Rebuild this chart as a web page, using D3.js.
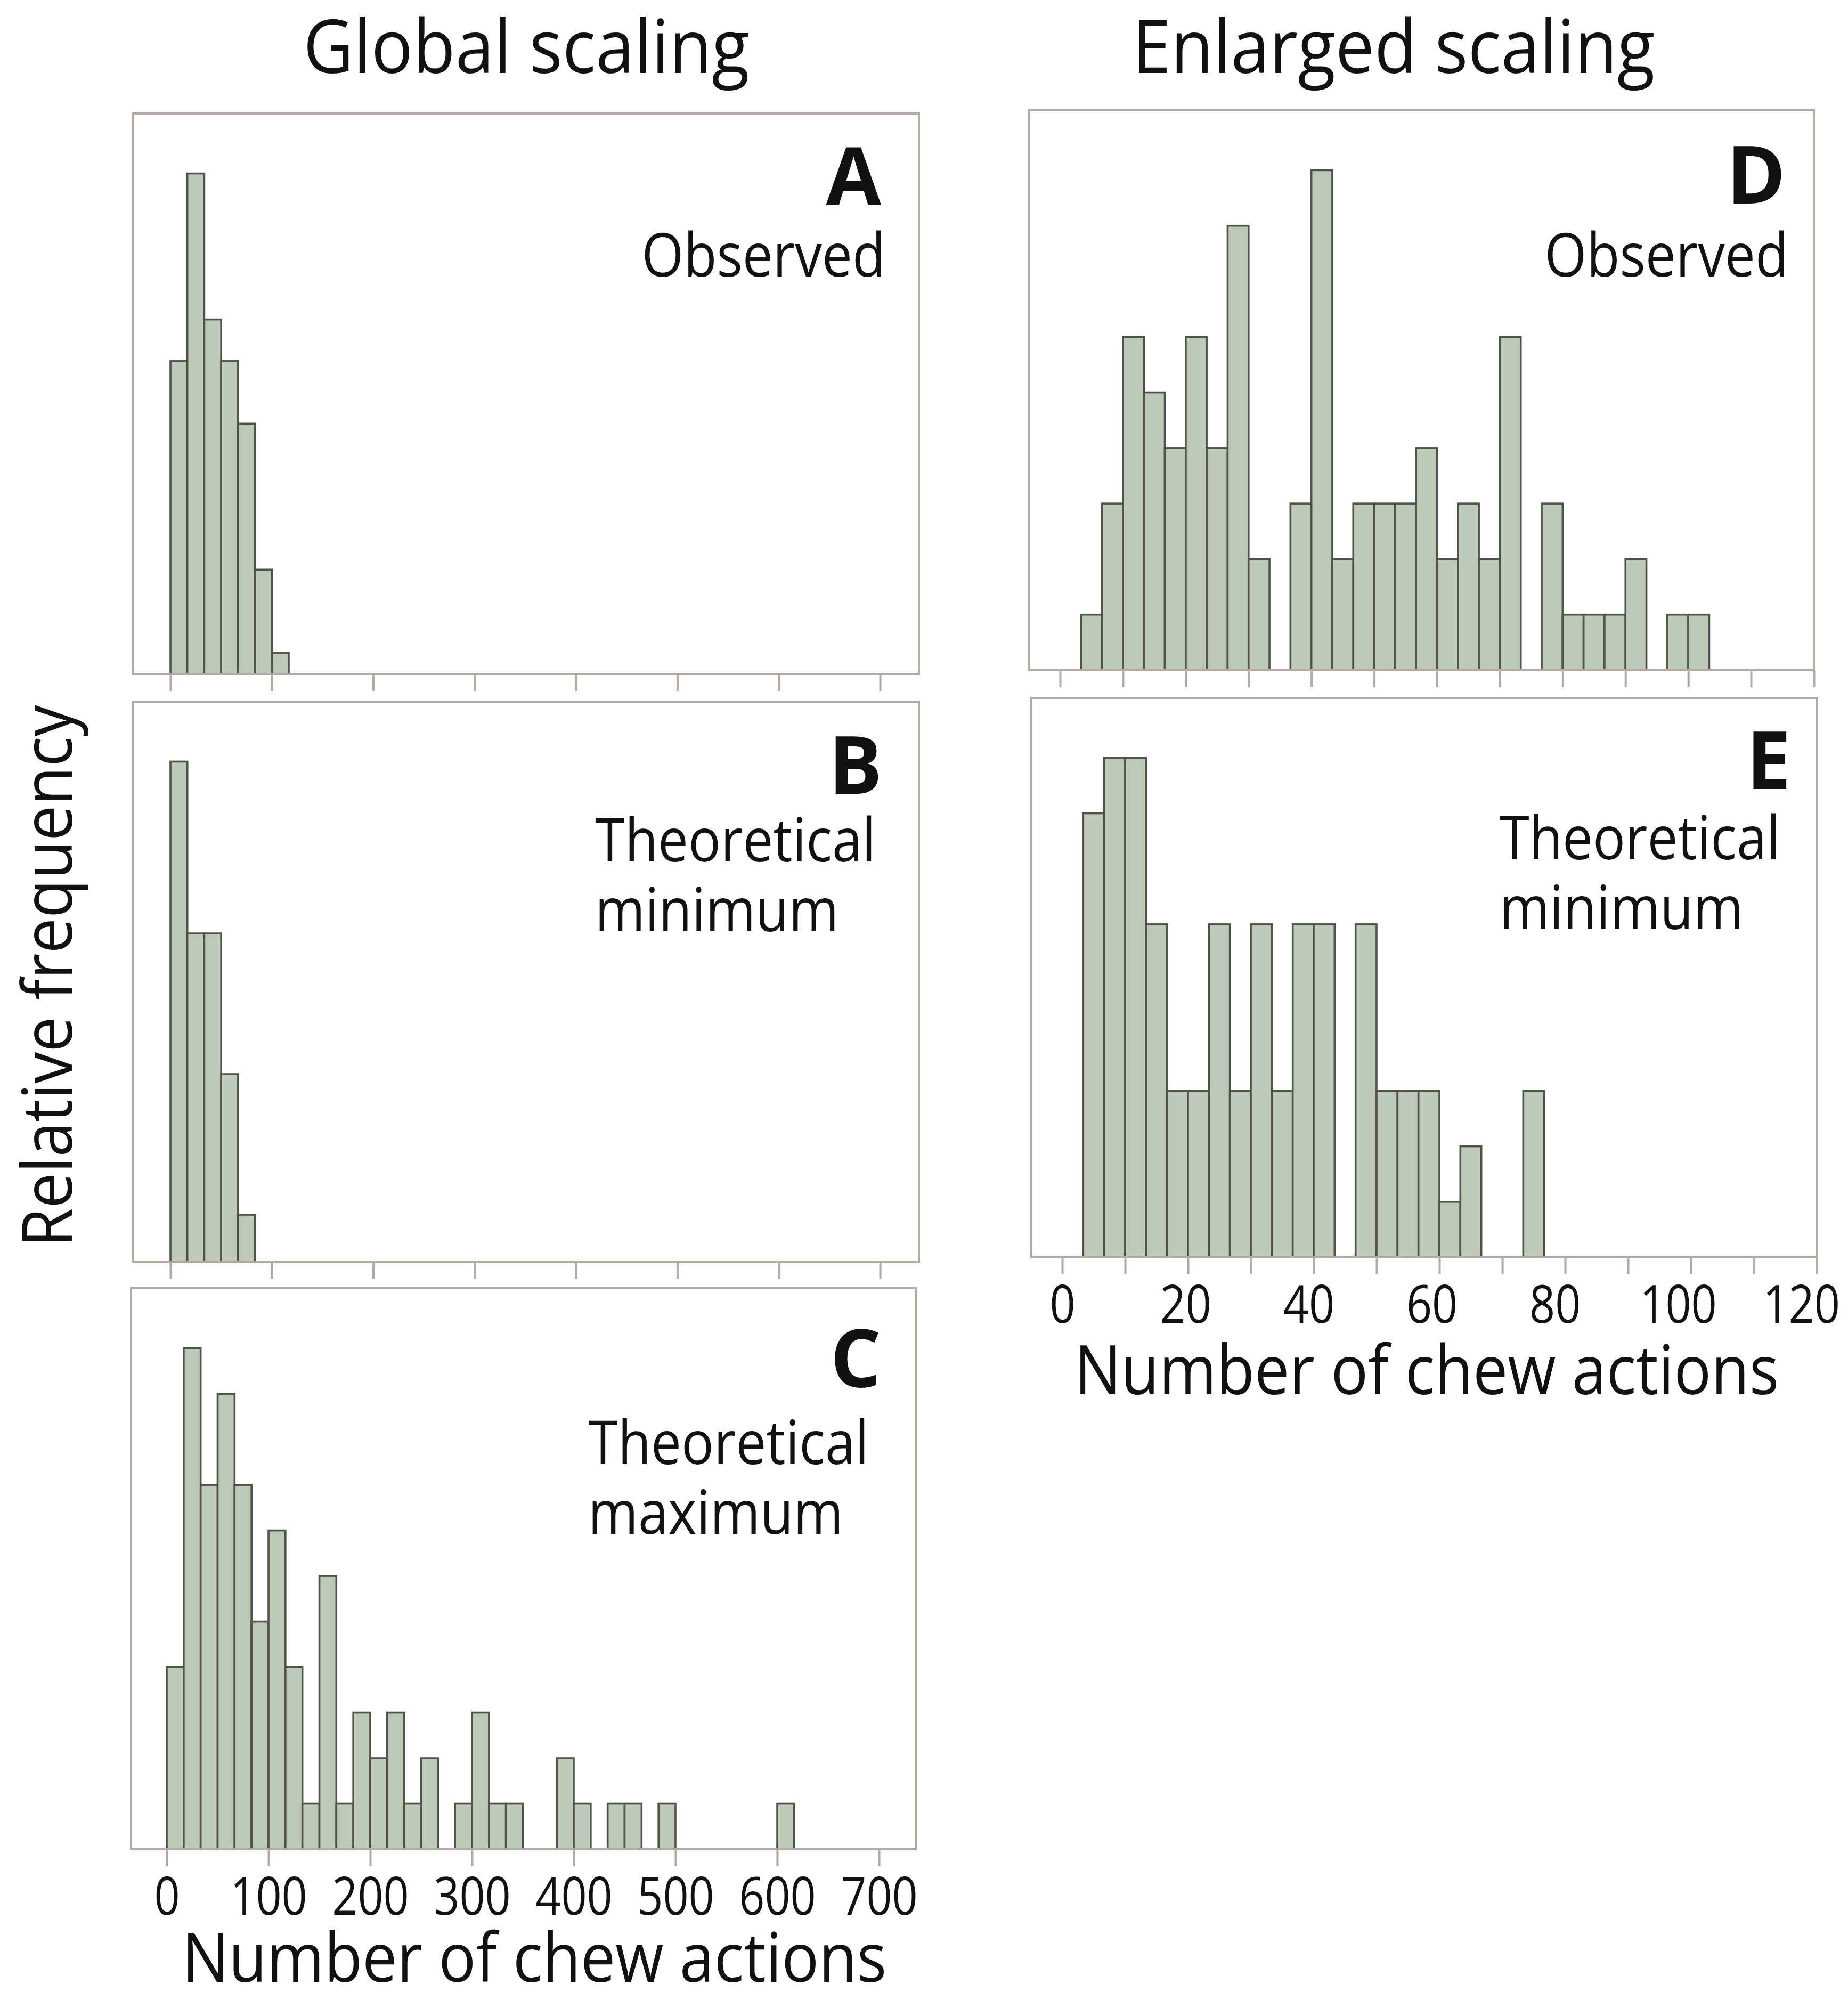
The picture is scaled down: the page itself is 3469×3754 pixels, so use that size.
<!DOCTYPE html>
<html>
<head>
<meta charset="utf-8">
<script src="https://cdn.jsdelivr.net/npm/d3@7"></script>
<style>
  html, body { margin: 0; padding: 0; background: #fff; }
  text { font-family: 'Open Sans', 'Noto Sans', sans-serif; fill: #111; }
</style>
</head>
<body>
<svg id="chart"></svg>
<script>
// Histogram counts (89 subjects each).
// Global scaling uses bins of 50/3 chew actions, starting at 0.
const globalBinWidth   = 50 / 3;
const observedGlobal   = [ 15, 24, 17, 15, 12, 5, 1 ];
const minimumGlobal    = [ 32, 21, 21, 12, 3 ];
const maximumGlobal    = [ 4, 11, 8, 10, 8, 5, 7, 4, 1, 6, 1, 3, 2, 3, 1, 2, 0, 1, 3, 1, 1,
                           0, 0, 2, 1, 0, 1, 1, 0, 1, 0, 0, 0, 0, 0, 0, 1 ];
// Enlarged scaling uses bins of 10/3 chew actions, starting at 0.
const enlargedBinWidth = 10 / 3;
const observedEnlarged = [ 0, 1, 3, 6, 5, 4, 6, 4, 8, 2, 0, 3, 9, 2, 3, 3, 3, 4, 2, 3, 2,
                           6, 0, 3, 1, 1, 1, 2, 0, 1, 1 ];
const minimumEnlarged  = [ 0, 8, 9, 9, 6, 3, 3, 6, 3, 6, 3, 6, 6, 0, 6, 3, 3, 3, 1, 2, 0, 0, 3 ];

// Axis ticks and labels.
const globalTicks      = [ 0, 100, 200, 300, 400, 500, 600, 700 ];
const globalLabels     = [ '0', '100', '200', '300', '400', '500', '600', '700' ];
const enlargedTicks    = [ 0, 10, 20, 30, 40, 50, 60, 70, 80, 90, 100, 110, 120 ];
const enlargedLabels   = [ '0', '20', '40', '60', '80', '100', '120' ];

const columnTitles     = [ 'Global scaling', 'Enlarged scaling' ];
const yTitle           = 'Relative frequency';
const xTitle           = 'Number of chew actions';

const W = 3469, H = 3754;
const barFill = '#bccab7', barStroke = '#51534a', frameColor = '#b5a9a6';

const svg = d3.select( '#chart' ).attr( 'width', W ).attr( 'height', H );
svg.append( 'rect' ).attr( 'width', W ).attr( 'height', H ).attr( 'fill', '#fff' );

// Panel layout in pixels.
const panels = [
  { counts: observedGlobal, bw: globalBinWidth, frame: [ 250, 1725, 213, 1265 ], range: [ 320, 1652 ],
    domain: [ 0, 700 ], ticks: globalTicks, labels: null, letter: 'A', letterAt: [ 1654, 385 ],
    lines: [ 'Observed' ], linesAt: [ 1662, 519 ], anchor: 'end' },
  { counts: minimumGlobal, bw: globalBinWidth, frame: [ 250, 1725, 1317, 2368 ], range: [ 320, 1652 ],
    domain: [ 0, 700 ], ticks: globalTicks, labels: null, letter: 'B', letterAt: [ 1656, 1490 ],
    lines: [ 'Theoretical', 'minimum' ], linesAt: [ 1117, 1617 ], anchor: 'start' },
  { counts: maximumGlobal, bw: globalBinWidth, frame: [ 246, 1720, 2418, 3471 ], range: [ 313, 1650 ],
    domain: [ 0, 700 ], ticks: globalTicks, labels: globalLabels, drift: 0, letter: 'C', letterAt: [ 1654, 2604 ],
    lines: [ 'Theoretical', 'maximum' ], linesAt: [ 1104, 2748 ], anchor: 'start', xTitleAt: [ 1003, 3720 ] },
  { counts: observedEnlarged, bw: enlargedBinWidth, frame: [ 1932, 3405, 207, 1258 ], range: [ 1990, 3405 ],
    domain: [ 0, 120 ], ticks: enlargedTicks, labels: null, letter: 'D', letterAt: [ 3352, 382 ],
    lines: [ 'Observed' ], linesAt: [ 3357, 519 ], anchor: 'end' },
  { counts: minimumEnlarged, bw: enlargedBinWidth, frame: [ 1936, 3410, 1310, 2360 ], range: [ 1994, 3410 ],
    domain: [ 0, 120 ], ticks: enlargedTicks, labels: enlargedLabels, drift: -0.24, letter: 'E', letterAt: [ 3362, 1481 ],
    lines: [ 'Theoretical', 'minimum' ], linesAt: [ 2815, 1613 ], anchor: 'start', xTitleAt: [ 2678, 2617 ] }
];

// Draws one histogram panel.
function drawPanel ( p ) {
  const [ x0, x1, y0, y1 ] = p.frame;
  const g = svg.append( 'g' );
  const x = d3.scaleLinear( ).domain( p.domain ).range( p.range );
  const y = d3.scaleLinear( ).domain( [ 0, d3.max( p.counts ) / 0.893 ] ).range( [ y1, y0 ] );

  const bins = p.counts.map( ( c, i ) => ( { lo: i * p.bw, hi: ( i + 1 ) * p.bw, c } ) )
                       .filter( d => d.c > 0 );
  g.selectAll( 'rect.bar' ).data( bins ).enter( ).append( 'rect' )
    .attr( 'class', 'bar' )
    .attr( 'x', d => x( d.lo ) )
    .attr( 'width', d => x( d.hi ) - x( d.lo ) )
    .attr( 'y', d => y( d.c ) )
    .attr( 'height', d => y( 0 ) - y( d.c ) )
    .attr( 'fill', barFill )
    .attr( 'stroke', barStroke )
    .attr( 'stroke-width', 3.6 );

  // Axis with ticks; labels only where the panel carries them.
  const axis = d3.axisBottom( x )
    .tickValues( p.ticks )
    .tickSize( 32 )
    .tickFormat( d => p.labels && p.labels.includes( String( d ) ) ? String( d ) : '' );
  const ax = g.append( 'g' ).attr( 'transform', `translate(0, ${y1})` ).call( axis );
  ax.select( '.domain' ).remove( );
  ax.selectAll( '.tick line' ).attr( 'stroke', frameColor ).attr( 'stroke-width', 4 );
  ax.selectAll( '.tick text' ).filter( function ( ) { return !this.textContent; } ).remove( );
  ax.selectAll( '.tick text' )
    .attr( 'class', 'sq' ).attr( 'data-sq', 0.86 )
    .attr( 'y', 123 ).attr( 'dy', 0 )
    .attr( 'dx', d => ( p.drift || 0 ) * d )
    .attr( 'font-size', 98 )
    .attr( 'font-family', "'Open Sans', 'Noto Sans', sans-serif" )
    .attr( 'fill', '#111' );

  // Frame on top of the bar outlines.
  g.append( 'rect' )
    .attr( 'x', x0 ).attr( 'y', y0 )
    .attr( 'width', x1 - x0 ).attr( 'height', y1 - y0 )
    .attr( 'fill', 'none' ).attr( 'stroke', frameColor ).attr( 'stroke-width', 4 );

  g.append( 'text' )
    .attr( 'x', p.letterAt[0] ).attr( 'y', p.letterAt[1] )
    .attr( 'text-anchor', 'end' )
    .attr( 'font-size', 150 ).attr( 'font-weight', 700 )
    .text( p.letter );

  p.lines.forEach( ( t, i ) => {
    g.append( 'text' ).attr( 'class', 'sq' ).attr( 'data-sq', 0.89 )
      .attr( 'x', p.linesAt[0] ).attr( 'y', p.linesAt[1] + i * 131 )
      .attr( 'text-anchor', p.anchor )
      .attr( 'font-size', 114 )
      .text( t );
  } );

  if ( p.xTitleAt ) {
    g.append( 'text' ).attr( 'class', 'sq' ).attr( 'data-sq', 0.91 )
      .attr( 'x', p.xTitleAt[0] ).attr( 'y', p.xTitleAt[1] )
      .attr( 'text-anchor', 'middle' )
      .attr( 'font-size', 128 )
      .text( xTitle );
  }
}

panels.forEach( drawPanel );

// Column titles and the shared y title.
svg.selectAll( 'text.col' ).data( columnTitles ).enter( ).append( 'text' )
  .attr( 'class', 'col sq' ).attr( 'data-sq', 0.93 )
  .attr( 'x', ( d, i ) => i ? 2616 : 988 )
  .attr( 'y', 137 )
  .attr( 'text-anchor', 'middle' )
  .attr( 'font-size', 140 )
  .text( d => d );

svg.append( 'text' ).attr( 'class', 'sq' ).attr( 'data-sq', 0.91 )
  .attr( 'transform', 'translate(135, 1832) rotate(-90)' )
  .attr( 'text-anchor', 'middle' )
  .attr( 'font-size', 130 )
  .text( yTitle );

// Narrow the wide fallback face to the original text widths.
svg.selectAll( 'text.sq' ).each( function ( ) {
  const len = this.getComputedTextLength( );
  if ( !len ) return;
  const f = +this.getAttribute( 'data-sq' ) || 0.93;
  d3.select( this ).attr( 'textLength', len * f ).attr( 'lengthAdjust', 'spacingAndGlyphs' );
} );
</script>
</body>
</html>
